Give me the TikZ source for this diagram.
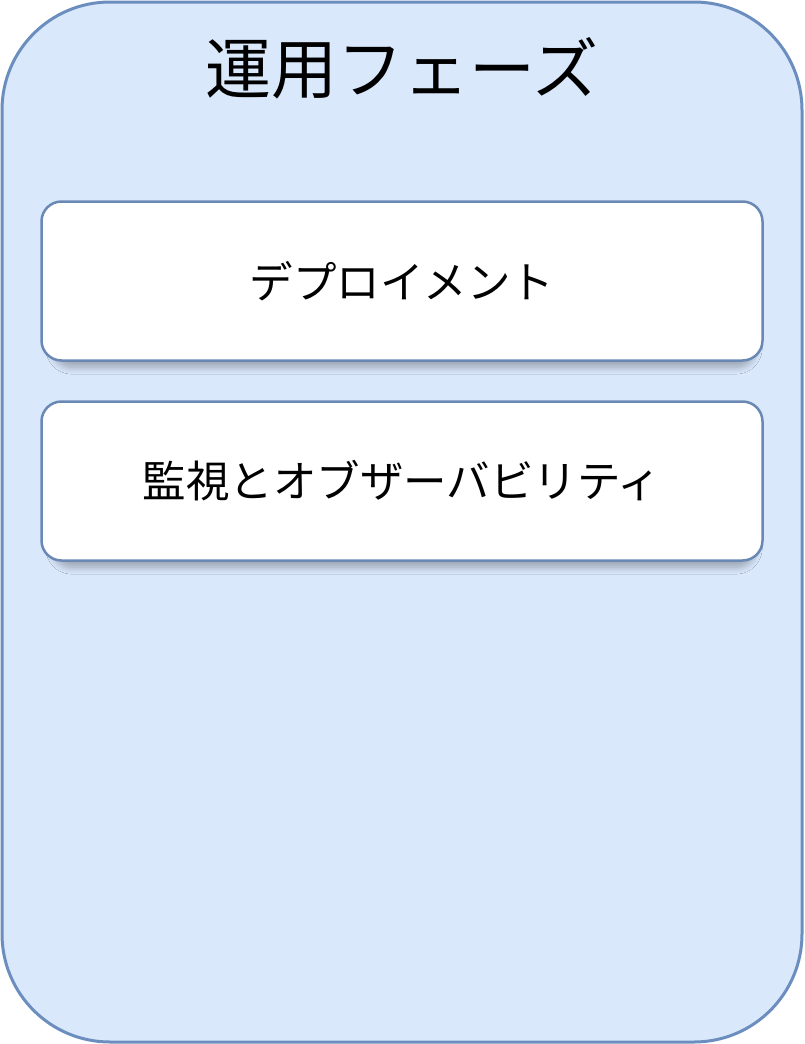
\documentclass[tikz,border=0pt]{standalone}
\usepackage{fontspec}
\newfontfamily\cjk{Noto Sans CJK JP}
\usetikzlibrary{shadows.blur}
\definecolor{outerfill}{HTML}{DAE8FC}
\definecolor{outerline}{HTML}{6C8EBF}
\definecolor{boxline}{HTML}{6A88B4}
\tikzset{
  phase/.style={draw=outerline, fill=outerfill, line width=3pt, rounded corners=108pt},
  itembox/.style={draw=boxline, fill=white, line width=2.5pt, rounded corners=20pt,
    minimum width=721pt, minimum height=159pt, inner sep=0pt,
    blur shadow={shadow xshift=2pt, shadow yshift=-9pt, shadow scale=0.975, shadow blur steps=10, shadow blur radius=7pt, shadow opacity=30},
    font=\cjk\fontsize{43.5}{50}\selectfont},
  titletext/.style={font=\cjk\fontsize{66}{72}\selectfont, inner sep=0pt}
}
\begin{document}
\begin{tikzpicture}[x=1pt,y=-1pt]
\useasboundingbox (0,0) rectangle (804,1044);
\draw[phase] (2,2) rectangle (802,1042);
\node[titletext] (title) at (402,68) {運用フェーズ};
\node[itembox] (deploy) at (402,281) {デプロイメント};
\node[itembox] (monitor) at (402,481) {監視とオブザーバビリティ};
\end{tikzpicture}
\end{document}
